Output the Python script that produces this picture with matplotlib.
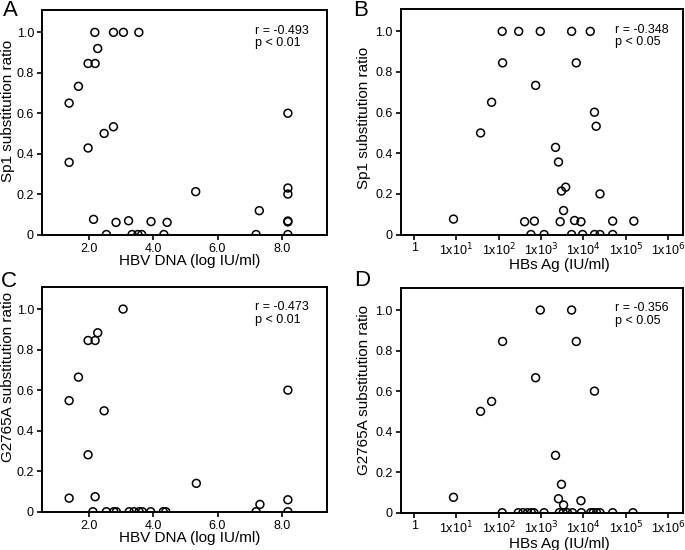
import numpy as np
import matplotlib.pyplot as plt
from matplotlib.ticker import FixedLocator, FixedFormatter

plt.rcParams['font.family'] = ['Liberation Sans', 'DejaVu Sans']

# HBV DNA (log IU/ml) vs Sp1 ratio
dnaA = [2.18, 2.76, 3.07, 3.55, 2.27, 1.97, 2.19, 1.67, 1.38, 2.76, 2.47, 1.97, 1.38,
        5.32, 8.19, 8.19, 8.19, 8.19, 8.19, 7.30, 2.14, 2.84, 3.23, 3.93, 4.43,
        2.54, 3.34, 3.52, 3.64, 4.33, 7.20, 8.19]
sp1A = [1.0, 1.0, 1.0, 1.0, 0.92, 0.846, 0.846, 0.733, 0.65, 0.533, 0.5, 0.428, 0.357,
        0.212, 0.6, 0.23, 0.2, 0.067, 0.0625, 0.118, 0.075, 0.06, 0.068, 0.064, 0.06,
        0, 0, 0, 0, 0, 0, 0]

# HBsAg (log10 IU/ml) vs Sp1 ratio
hbsB = [2.08, 2.47, 2.98, 3.72, 4.16, 2.09, 3.83, 2.87, 1.83, 4.26, 4.30, 1.57, 3.34,
        3.41, 3.48, 3.58, 4.39, 3.53, 0.93, 2.61, 2.84, 3.45, 3.79, 3.94, 4.69, 5.19,
        2.76, 3.07, 3.72, 3.98, 4.26, 4.39, 4.69]
sp1B = [1.0, 1.0, 1.0, 1.0, 1.0, 0.845, 0.845, 0.734, 0.651, 0.602, 0.533, 0.5, 0.429,
        0.357, 0.214, 0.233, 0.2, 0.118, 0.076, 0.063, 0.066, 0.063, 0.069, 0.063, 0.066, 0.066,
        0, 0, 0, 0, 0, 0, 0]

# HBV DNA vs G2765A ratio
dnaC = [3.06, 2.27, 1.97, 2.19, 1.67, 1.38, 2.47, 1.97, 1.38, 2.19, 5.34, 8.19, 8.19, 7.32,
        2.12, 2.54, 2.77, 2.85, 3.25, 3.40, 3.56, 3.66, 3.92, 4.31, 4.39, 7.20, 8.19]
gaC = [1.0, 0.883, 0.845, 0.845, 0.664, 0.548, 0.498, 0.281, 0.067, 0.074, 0.14, 0.6, 0.059, 0.036,
       0, 0, 0, 0, 0, 0, 0, 0, 0, 0, 0, 0, 0]

# HBsAg vs G2765A ratio
hbsD = [2.98, 3.72, 2.09, 3.83, 2.87, 4.26, 1.83, 1.57, 3.34, 3.48, 3.41, 3.53, 3.94, 0.93,
        2.08, 2.46, 2.57, 2.68, 2.77, 2.83, 3.07, 3.43, 3.52, 3.62, 3.74, 3.95, 4.17, 4.23,
        4.31, 4.39, 4.69, 5.17]
gaD = [1.0, 1.0, 0.845, 0.845, 0.666, 0.6, 0.549, 0.5, 0.283, 0.14, 0.069, 0.038, 0.059, 0.076,
       0, 0, 0, 0, 0, 0, 0, 0, 0, 0, 0, 0, 0, 0, 0, 0, 0, 0]

stats = [("r = -0.493", "p < 0.01"), ("r = -0.348", "p < 0.05"),
         ("r = -0.473", "p < 0.01"), ("r = -0.356", "p < 0.05")]
log_labels = ["1", "1x10$^{1}$", "1x10$^{2}$", "1x10$^{3}$", "1x10$^{4}$", "1x10$^{5}$", "1x10$^{6}$"]

W, H = 685, 550
fig = plt.figure(figsize=(6.85, 5.5), dpi=100)
axA = fig.add_axes([0.062, 0.5736, 0.415, 0.408])
axB = fig.add_axes([0.5854, 0.5736, 0.411, 0.41])
axC = fig.add_axes([0.062, 0.0696, 0.415, 0.409])
axD = fig.add_axes([0.5854, 0.0678, 0.411, 0.409])

def style(ax, ylab, letter, lxy, st, stx, ylc, xlc):
    ax.set_ylim(0, 1.11)
    ax.set_yticks([0, 0.2, 0.4, 0.6, 0.8, 1.0])
    ax.set_yticklabels(["0", "0.2", "0.4", "0.6", "0.8", "1.0"])
    ax.set_ylabel(ylab, fontsize=11)
    ax.yaxis.set_label_coords(*ylc)
    ax.xaxis.set_label_coords(*xlc)
    for s in ax.spines.values():
        s.set_linewidth(1.4)
    ax.tick_params(direction='out', length=3.6, width=1.2, labelsize=9, pad=2.5)
    ax.minorticks_off()
    ax.text(stx, 0.935, st[0] + "\n" + st[1], transform=ax.transAxes,
            fontsize=9, va='top', ha='left', linespacing=1.05)
    fig.text(lxy[0] / W, 1 - lxy[1] / H, letter, fontsize=16, va='center', ha='center')

mk = dict(s=32, facecolors='none', edgecolors='black', linewidths=1.1, clip_on=True, zorder=3)

axA.scatter(dnaA, sp1A, **mk)
axC.scatter(dnaC, gaC, **mk)
for ax in (axA, axC):
    ax.set_xlim(0.55, 9.4)
    ax.set_xticks([2, 4, 6, 8])
    ax.set_xticklabels(["2.0", "4.0", "6.0", "8.0"])
    ax.set_xlabel("HBV DNA (log IU/ml)", fontsize=11)

axB.scatter(10 ** np.array(hbsB), sp1B, **mk)
axD.scatter(10 ** np.array(hbsD), gaD, **mk)
for ax in (axB, axD):
    ax.set_xscale('log')
    ax.set_xlim(10 ** -0.31, 10 ** 6.34)
    ax.xaxis.set_major_locator(FixedLocator([10.0 ** k for k in range(7)]))
    ax.xaxis.set_major_formatter(FixedFormatter(log_labels))
    ax.xaxis.set_minor_locator(FixedLocator([]))
    ax.set_xlabel("HBs Ag (IU/ml)", fontsize=11)

style(axA, "Sp1 substitution ratio", "A", (10, 10), stats[0], 0.748, (-0.097, 0.55), (0.519, -0.089))
style(axB, "Sp1 substitution ratio", "B", (361, 10.5), stats[1], 0.76, (-0.107, 0.516), (0.564, -0.105))
style(axC, "G2765A substitution ratio", "C", (9, 281.5), stats[2], 0.748, (-0.097, 0.60), (0.519, -0.086))
style(axD, "G2765A substitution ratio", "D", (362, 281), stats[3], 0.76, (-0.105, 0.545), (0.564, -0.106))
for ax in (axB, axD):
    ax.tick_params(axis='x', pad=1.5)

fig.savefig("out.png", dpi=100)
